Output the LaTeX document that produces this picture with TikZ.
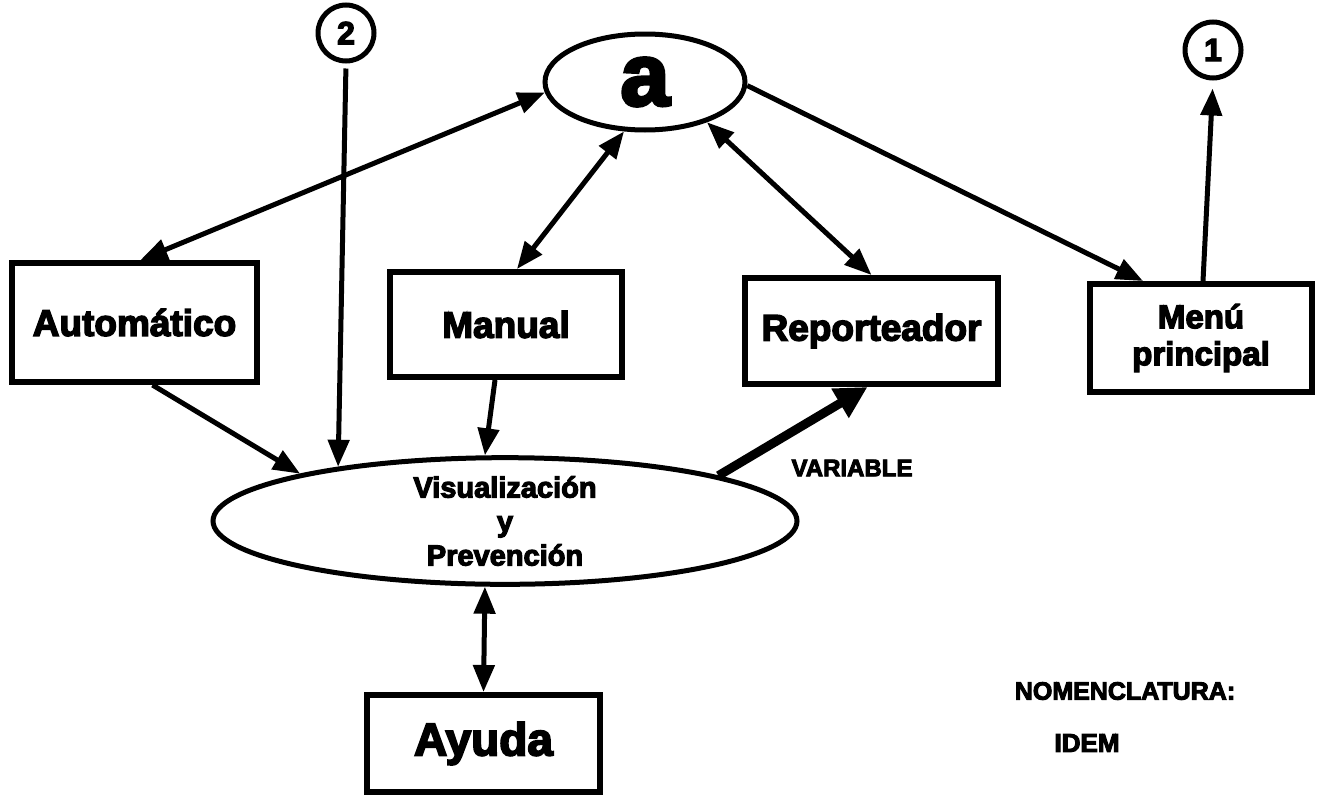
\documentclass[tikz,border=0pt]{standalone}
\usepackage{fontspec}
\newfontfamily\heavy{Liberation Sans}[UprightFont={* Bold},FakeBold=4]
\usetikzlibrary{arrows.meta,shapes.geometric}

\tikzset{
  box/.style={draw, line width=6pt, inner sep=0pt, align=center,
    font=\heavy\fontsize{37}{38}\selectfont},
  oval/.style={draw, ellipse, line width=5pt, inner sep=0pt, align=center},
  tag/.style={draw, circle, line width=5pt, minimum size=56pt, inner sep=0pt,
    font=\heavy\fontsize{32}{32}\selectfont},
  note/.style={inner sep=0pt, font=\heavy\fontsize{24}{24}\selectfont},
  arr/.style={line width=5pt, -{Triangle[length=27pt,width=21pt]}},
  dbl/.style={line width=5pt, {Triangle[length=27pt,width=21pt]}-{Triangle[length=27pt,width=21pt]}},
}

\begin{document}
\begin{tikzpicture}[x=1pt,y=-1pt]
\useasboundingbox (0,0) rectangle (1324,795);

% top: the "a" oval and the two page marks
\node[oval, minimum width=200pt, minimum height=96pt,
  font=\heavy\fontsize{88}{88}\selectfont] (a) at (645,82) {a};
\node[tag] (two) at (346,33) {2};
\node[tag] (one) at (1213,50) {1};

% middle row
\node[box, minimum width=245pt, minimum height=119pt] (auto) at (134.5,322.5) {Automático};
\node[box, minimum width=232pt, minimum height=105pt] (manual) at (506,324.5) {Manual};
\node[box, minimum width=253pt, minimum height=106pt] (rep) at (871.5,331) {Reporteador};
\node[box, minimum width=222pt, minimum height=108pt,
  font=\heavy\fontsize{33}{37}\selectfont] (menu) at (1201,338) {Menú\\principal};

% lower part
\node[oval, minimum width=584pt, minimum height=126pt,
  font=\heavy\fontsize{29}{34}\selectfont] (vis) at (505,521) {Visualización\\y\\Prevención};
\node[box, minimum width=233pt, minimum height=97pt,
  font=\heavy\fontsize{46}{46}\selectfont] (ayuda) at (483.5,743.5) {Ayuda};

\node[note] (var) at (852,468) {VARIABLE};
\node[note, font=\heavy\fontsize{25}{25}\selectfont] (nom) at (1125,691) {NOMENCLATURA:};
\node[note, font=\heavy\fontsize{26}{26}\selectfont] (idem) at (1087,743) {IDEM};

% connectors
\draw[dbl] (a.186) -- ([xshift=6pt]auto.north);
\draw[dbl] (a.247) -- ([xshift=11pt]manual.north);
\draw[dbl] (a.327) -- (rep.north);
\draw[arr] (a.-2) -- ([xshift=-58pt]menu.north);
\draw[arr, shorten >=8pt] ([xshift=2pt]menu.north) -- (one.south);

\draw[arr, shorten <=5pt] (two.south) -- (vis.162);
\draw[arr] ([xshift=18pt]auto.south) -- (vis.167);
\draw[arr] ([xshift=-11pt]manual.south) -- (vis.107);
\draw[line width=9pt, -{Triangle[length=32pt,width=32pt]}] (vis.12) -- ([xshift=-4pt]rep.south);
\draw[dbl] (vis.253) -- (ayuda.north);

\end{tikzpicture}
\end{document}
